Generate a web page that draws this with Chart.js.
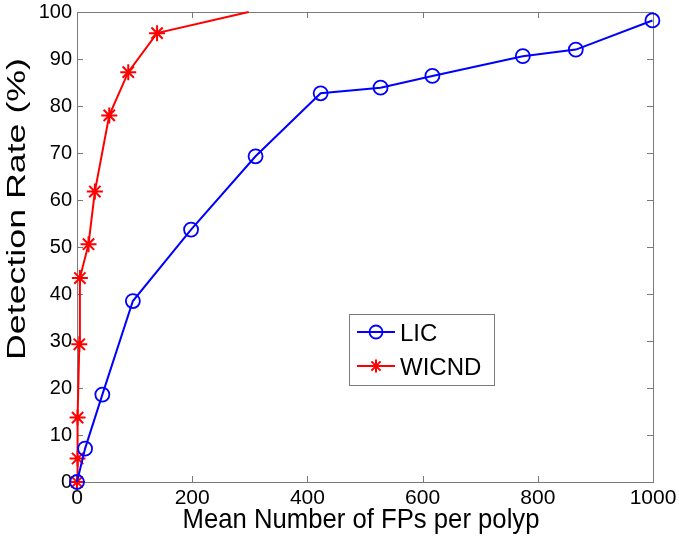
<!DOCTYPE html>
<html>
<head>
<meta charset="utf-8">
<script src="https://cdn.jsdelivr.net/npm/chart.js@4.4.1/dist/chart.umd.min.js"></script>
<style>
  html, body { margin: 0; padding: 0; background: #fff; }
  canvas { display: block; }
</style>
</head>
<body>
<canvas id="chart" width="679" height="542"></canvas>
<script>
// values
const licX = [0, 14, 44, 97, 198, 310, 423, 527, 617, 774, 866, 999];
const licY = [0, 7.1, 18.6, 38.5, 53.7, 69.3, 82.7, 83.9, 86.4, 90.6, 92.0, 98.2];
const wicndX = [0, 1, 1, 4, 5, 20, 31, 56, 89, 139, 298];
const wicndY = [0, 5.0, 13.7, 29.3, 43.4, 50.6, 61.8, 78.0, 87.2, 95.5, 100];
const seriesNames = ['LIC', 'WICND'];
const xTicks = [0, 200, 400, 600, 800, 1000];
const yTicks = [0, 10, 20, 30, 40, 50, 60, 70, 80, 90, 100];
const xTitle = 'Mean Number of FPs per polyp';
const yTitle = 'Detection Rate (%)';

const FONT = 'Arial, "Liberation Sans", sans-serif';
Chart.defaults.font.family = FONT;
Chart.defaults.color = '#000';

const toPoints = (xs, ys) => xs.map((x, i) => ({ x: x, y: ys[i] }));

// matlab style box with inward ticks on all four sides
const axesBox = {
  id: 'axesBox',
  beforeDatasetsDraw(chart) {
    const { ctx, chartArea: a, scales } = chart;
    ctx.save();
    ctx.strokeStyle = '#7a7a7a';
    ctx.lineWidth = 1;
    ctx.beginPath();
    xTicks.forEach(v => {
      const px = Math.round(scales.x.getPixelForValue(v)) + 0.5;
      ctx.moveTo(px, a.bottom); ctx.lineTo(px, a.bottom - 6);
      ctx.moveTo(px, a.top); ctx.lineTo(px, a.top + 6);
    });
    yTicks.forEach(v => {
      const py = Math.round(scales.y.getPixelForValue(v)) + 0.5;
      ctx.moveTo(a.left, py); ctx.lineTo(a.left + 6, py);
      ctx.moveTo(a.right, py); ctx.lineTo(a.right - 6, py);
    });
    ctx.stroke();
    ctx.strokeRect(Math.round(a.left) + 0.5, Math.round(a.top) + 0.5,
      Math.round(a.right - a.left), Math.round(a.bottom - a.top));
    ctx.restore();
  }
};

// axis titles are a bit stretched in the original
const axisTitles = {
  id: 'axisTitles',
  afterDraw(chart) {
    const { ctx } = chart;
    ctx.save();
    ctx.fillStyle = '#000';
    ctx.font = '26px ' + FONT;
    ctx.textAlign = 'center';
    ctx.textBaseline = 'alphabetic';
    ctx.save();
    ctx.translate(25, 209);
    ctx.rotate(-Math.PI / 2);
    const wy = ctx.measureText(yTitle).width;
    ctx.scale(302 / wy, 1);
    ctx.fillText(yTitle, 0, 0);
    ctx.restore();

    ctx.save();
    ctx.font = '25px ' + FONT;
    const wx = ctx.measureText(xTitle).width;
    ctx.translate(361, 528);
    ctx.scale(357 / wx, 1.12);
    ctx.fillText(xTitle, 0, 0);
    ctx.restore();
    ctx.restore();
  }
};

function drawMarker(ctx, style, x, y, r) {
  ctx.beginPath();
  if (style === 'circle') {
    ctx.arc(x, y, r, 0, Math.PI * 2);
  } else {
    for (let k = 0; k < 4; k++) {
      const ang = k * Math.PI / 4;
      ctx.moveTo(x - r * Math.cos(ang), y - r * Math.sin(ang));
      ctx.lineTo(x + r * Math.cos(ang), y + r * Math.sin(ang));
    }
  }
  ctx.stroke();
}

const boxLegend = {
  id: 'boxLegend',
  afterDraw(chart) {
    const { ctx } = chart;
    const bx = 349.5, by = 314.5, bw = 145, bh = 71;
    ctx.save();
    ctx.fillStyle = '#fff';
    ctx.fillRect(bx, by, bw, bh);
    ctx.strokeStyle = '#7a7a7a';
    ctx.lineWidth = 1;
    ctx.strokeRect(bx, by, bw, bh);
    const rows = [332, 366];
    chart.data.datasets.forEach((ds, i) => {
      const ly = rows[i];
      ctx.strokeStyle = ds.borderColor;
      ctx.lineWidth = 2;
      ctx.beginPath();
      ctx.moveTo(357, ly); ctx.lineTo(395, ly);
      ctx.stroke();
      ctx.lineWidth = ds.pointBorderWidth;
      drawMarker(ctx, ds.pointStyle, 376, ly, 6.5);
      ctx.fillStyle = '#000';
      ctx.font = '24px ' + FONT;
      ctx.textAlign = 'left';
      ctx.textBaseline = 'alphabetic';
      ctx.fillText(ds.label, 400, ly + 9);
    });
    ctx.restore();
  }
};

const whiteBg = {
  id: 'whiteBg',
  beforeDraw(chart) {
    const { ctx } = chart;
    ctx.save();
    ctx.fillStyle = '#fff';
    ctx.fillRect(0, 0, chart.width, chart.height);
    ctx.restore();
  }
};

new Chart(document.getElementById('chart'), {
  type: 'scatter',
  data: {
    datasets: [
      {
        label: seriesNames[0],
        data: toPoints(licX, licY),
        showLine: true,
        borderColor: '#0000ff',
        borderWidth: 2,
        pointStyle: 'circle',
        pointRadius: 7,
        pointBorderWidth: 1.8,
        pointBackgroundColor: 'rgba(0,0,0,0)',
        pointBorderColor: '#0000ff',
        clip: false
      },
      {
        label: seriesNames[1],
        data: toPoints(wicndX, wicndY),
        showLine: true,
        borderColor: '#ff0000',
        borderWidth: 2,
        pointStyle: 'star',
        pointRadius: wicndX.map((_, i) => i === wicndX.length - 1 ? 0 : 8),
        pointBorderWidth: 2,
        pointBackgroundColor: '#ff0000',
        pointBorderColor: '#ff0000',
        clip: false
      }
    ]
  },
  options: {
    responsive: false,
    animation: false,
    layout: { padding: { left: 0, right: 26, top: 12, bottom: 0 } },
    plugins: {
      legend: { display: false },
      tooltip: { enabled: false }
    },
    scales: {
      x: {
        type: 'linear',
        min: 0,
        max: 1000,
        afterBuildTicks: s => { s.ticks = xTicks.map(v => ({ value: v })); },
        afterFit: s => { s.height = 60; s.paddingLeft = 0; s.paddingRight = 0; },
        grid: { display: false, drawTicks: false, tickLength: 0 },
        border: { display: false },
        ticks: { font: { size: 21 }, padding: 4, maxRotation: 0, autoSkip: false,
          callback: v => String(v) }
      },
      y: {
        type: 'linear',
        min: 0,
        max: 100,
        afterBuildTicks: s => { s.ticks = yTicks.map(v => ({ value: v })); },
        afterFit: s => { s.width = 77; s.paddingTop = 0; s.paddingBottom = 0; },
        grid: { display: false, drawTicks: false, tickLength: 0 },
        border: { display: false },
        ticks: { font: { size: 20 }, padding: 5, callback: v => String(v) }
      }
    }
  },
  plugins: [whiteBg, axesBox, axisTitles, boxLegend]
});
</script>
</body>
</html>
